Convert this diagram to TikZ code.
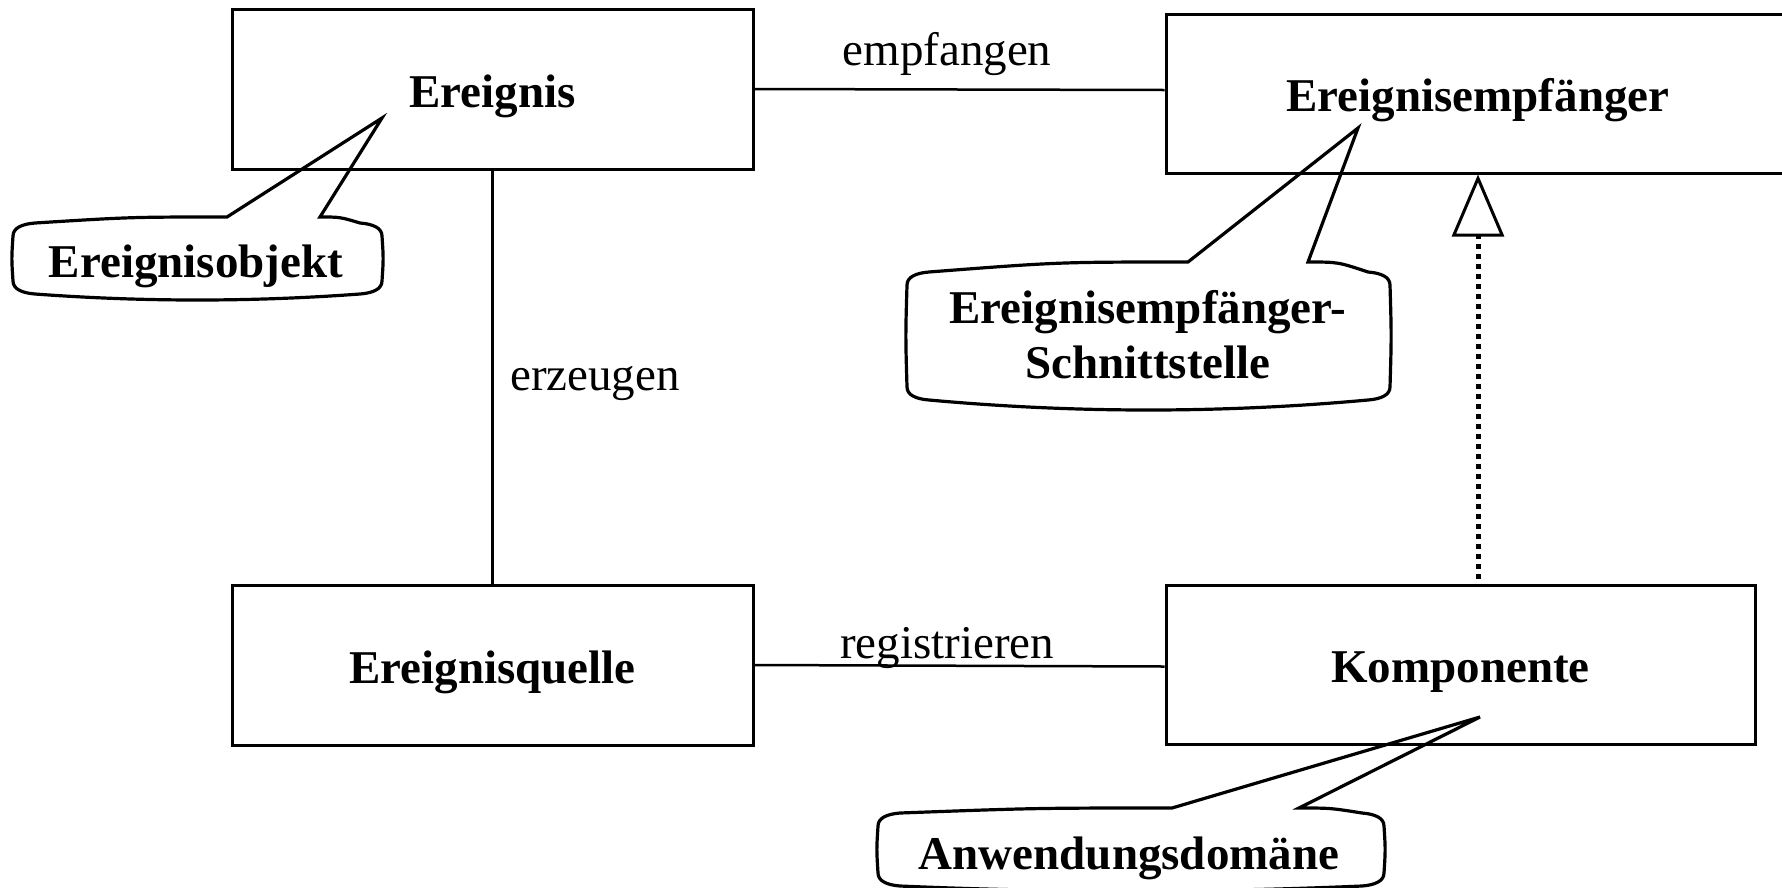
\documentclass[tikz,border=0pt]{standalone}
\usepackage{fontspec}
\setmainfont{Liberation Serif}
\usetikzlibrary{arrows.meta}

\tikzset{
  cls/.style={draw, line width=3pt, inner sep=0pt, minimum height=160pt,
    font=\bfseries\fontsize{47}{55}\selectfont, text height=36pt, text depth=0pt},
  assoc/.style={line width=2.5pt},
  lbl/.style={inner sep=0pt, font=\fontsize{47}{55}\selectfont},
  notetext/.style={inner sep=0pt, font=\bfseries\fontsize{47}{55}\selectfont},
  balloonline/.style={line width=3.2pt},
  realize/.style={line width=5pt, dash pattern=on 5pt off 5pt,
    -{Triangle[open, length=62pt, width=52pt, line width=3pt]}},
}

% speech balloon: left, top, right, bottom, wedge base left x, wedge base right x,
% wedge tip x, wedge tip y, sag of the top and bottom edges
\newcommand{\balloon}[9]{%
  \draw[balloonline]
    (#5,#2) -- (#7,#8) -- (#6,#2)
    .. controls ({(#6+#3-22)/2},#2) .. ({#3-22},{#2+#9})
    .. controls ({#3-9},{#2+#9+1}) and (#3,{#2+#9+5}) .. (#3,{#2+#9+13})
    .. controls ({#3+1.5},{(#2+#4)/2}) .. (#3,{#4-#9-13})
    .. controls (#3,{#4-#9-5}) and ({#3-9},{#4-#9-1}) .. ({#3-22},{#4-#9})
    .. controls ({#3-22-(#3-#1-44)/3},{#4+#9/3}) and ({#1+22+(#3-#1-44)/3},{#4+#9/3}) .. ({#1+22},{#4-#9})
    .. controls ({#1+9},{#4-#9-1}) and (#1,{#4-#9-5}) .. (#1,{#4-#9-13})
    .. controls ({#1-1.5},{(#2+#4)/2}) .. (#1,{#2+#9+13})
    .. controls (#1,{#2+#9+5}) and ({#1+9},{#2+#9+1}) .. ({#1+22},{#2+#9})
    .. controls ({(#1+22+#5)/2},#2) .. cycle;
}

\begin{document}
\begin{tikzpicture}[x=1pt, y=-1pt]
\useasboundingbox (0,0) rectangle (1782,887);
\clip (0,0) rectangle (1782,887);

% classes
\node[cls, minimum width=521pt] (ereignis) at (492.5,89) {Ereignis};
\node[cls, minimum width=624pt, minimum height=159pt] (empf) at (1478,93.5) {Ereignisempfänger};
\node[cls, minimum width=521pt] (quelle) at (492.5,665) {Ereignisquelle};
\node[cls, minimum width=589pt, minimum height=159pt] (komp) at (1460.5,664.5) {Komponente};

% associations
\draw[assoc] (ereignis.east) -- ([yshift=3.5pt]empf.west);
\draw[assoc] (ereignis.south) -- (quelle.north);
\draw[assoc] (quelle.east) -- ([yshift=-2pt]komp.west);

% realization
\draw[realize, dash phase=5pt] (komp.north -| empf.south) -- (empf.south);

% association names
\node[lbl, anchor=base] (lEmpf) at (947,65) {empfangen};
\node[lbl, anchor=base west] (lErz) at (510,390) {erzeugen};
\node[lbl, anchor=base] (lReg) at (947,658) {registrieren};

% notes
\balloon{13}{217}{382}{300}{227}{320}{382}{118}{6}
\balloon{907}{262}{1390}{410}{1188}{1308}{1358}{128}{10}
\balloon{878}{808}{1384}{891}{1172}{1299}{1480}{717}{5}

\node[notetext, anchor=base] (nObj) at (196,277) {Ereignisobjekt};
\node[notetext, anchor=base] (nIface) at (1148,323)
  {\begin{tabular}[t]{@{}c@{}}Ereignisempfänger-\\Schnittstelle\end{tabular}};
\node[notetext, anchor=base] (nDom) at (1129,869) {Anwendungsdomäne};
\end{tikzpicture}
\end{document}
